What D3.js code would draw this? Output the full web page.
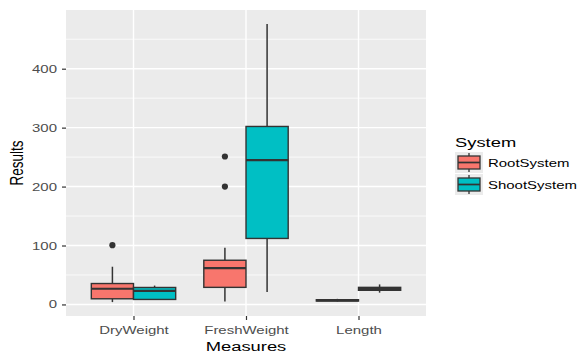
<!DOCTYPE html>
<html><head><meta charset="utf-8">
<script src="https://cdn.jsdelivr.net/npm/d3@7"></script>
<style>
body{margin:0;background:#fff}
text{font-family:"Liberation Sans",Arial,Helvetica,sans-serif}
</style></head>
<body><svg id="c" width="579" height="353"></svg>
<script>
// ---- data ----
const measures = ["DryWeight", "FreshWeight", "Length"];
const systems = ["RootSystem", "ShootSystem"];
const fills = ["#F8766D", "#00BFC4"];
// RootSystem five-number summaries per measure
const rootLow  = [4, 5, 5];
const rootQ1   = [9.6, 29, 5.8];
const rootMed  = [26.6, 61.5, 7];
const rootQ3   = [35.5, 75, 8];
const rootHigh = [64, 96, 9.5];
const rootOut  = [[100.5], [200, 251], []];
// ShootSystem five-number summaries per measure
const shootLow  = [8.5, 21, 20];
const shootQ1   = [8.5, 112, 24];
const shootMed  = [23.2, 245, 26.5];
const shootQ3   = [28.8, 302, 29];
const shootHigh = [32, 476, 34];
const shootOut  = [[], [], []];
const yTickLabels = [0, 100, 200, 300, 400];

// ---- build ----
const stats = [
  {low: rootLow, q1: rootQ1, med: rootMed, q3: rootQ3, high: rootHigh, out: rootOut},
  {low: shootLow, q1: shootQ1, med: shootMed, q3: shootQ3, high: shootHigh, out: shootOut}
];
const boxes = [];
measures.forEach((m, i) => systems.forEach((s, j) => {
  const st = stats[j];
  boxes.push({m, s, j, low: st.low[i], q1: st.q1[i], med: st.med[i], q3: st.q3[i], high: st.high[i], out: st.out[i]});
}));

const P = {l: 66, r: 426, t: 10, b: 316};
const SX = 1.36;
const svg = d3.select("#c");

const x = d3.scalePoint().domain(measures).range([P.l, P.r]).padding(0.6);
const allVals = boxes.flatMap(b => [b.low, b.high, ...b.out]);
const lo = d3.min(allVals), hi = d3.max(allVals), span = hi - lo;
const y = d3.scaleLinear().domain([lo - 0.05 * span, hi + 0.05 * span]).range([P.b, P.t]);

svg.append("rect").attr("x", P.l).attr("y", P.t).attr("width", P.r - P.l).attr("height", P.b - P.t).attr("fill", "#EBEBEB");

const minor = y.ticks(10).filter(t => !yTickLabels.includes(t));
svg.append("g").selectAll("line").data(minor).join("line")
  .attr("x1", P.l).attr("x2", P.r).attr("y1", d => y(d)).attr("y2", d => y(d))
  .attr("stroke", "#fff").attr("stroke-width", 0.8);
svg.append("g").selectAll("line").data(yTickLabels).join("line")
  .attr("x1", P.l).attr("x2", P.r).attr("y1", d => y(d)).attr("y2", d => y(d))
  .attr("stroke", "#fff").attr("stroke-width", 1.4);
svg.append("g").selectAll("line").data(measures).join("line")
  .attr("x1", d => x(d)).attr("x2", d => x(d)).attr("y1", P.t).attr("y2", P.b)
  .attr("stroke", "#fff").attr("stroke-width", 1.4);

const bw = 0.375 * x.step();
const cx = b => x(b.m) + (b.j - 0.5) * bw;
const OUT = "#333333";
const g = svg.append("g");
boxes.forEach(b => {
  const c = cx(b);
  g.append("line").attr("x1", c).attr("x2", c).attr("y1", y(b.high)).attr("y2", y(b.q3)).attr("stroke", OUT).attr("stroke-width", 1.5);
  g.append("line").attr("x1", c).attr("x2", c).attr("y1", y(b.q1)).attr("y2", y(b.low)).attr("stroke", OUT).attr("stroke-width", 1.5);
  g.append("rect").attr("x", c - bw / 2).attr("y", y(b.q3)).attr("width", bw).attr("height", Math.max(0.5, y(b.q1) - y(b.q3)))
    .attr("fill", fills[b.j]).attr("stroke", OUT).attr("stroke-width", 1.4);
  g.append("line").attr("x1", c - bw / 2).attr("x2", c + bw / 2).attr("y1", y(b.med)).attr("y2", y(b.med)).attr("stroke", OUT).attr("stroke-width", 2.2);
  b.out.forEach(o => g.append("circle").attr("cx", c).attr("cy", y(o)).attr("r", 3.1).attr("fill", OUT));
});

function stretch(sel) {
  sel.each(function () {
    const t = d3.select(this);
    const tx = +t.attr("x") || 0, ty = +t.attr("y") || 0;
    t.attr("x", 0).attr("y", 0).attr("transform", `translate(${tx},${ty}) scale(${SX},1)`);
  });
}

const ya = svg.append("g").attr("transform", `translate(${P.l},0)`)
  .call(d3.axisLeft(y).tickValues(yTickLabels).tickSize(4).tickPadding(5));
ya.select(".domain").remove();
ya.selectAll("line").attr("stroke", "#333").attr("stroke-width", 1.2);
ya.selectAll("text").attr("fill", "#4D4D4D").style("font-size", "11px").call(stretch);

const xa = svg.append("g").attr("transform", `translate(0,${P.b})`)
  .call(d3.axisBottom(x).tickSize(4).tickPadding(6));
xa.select(".domain").remove();
xa.selectAll("line").attr("stroke", "#333").attr("stroke-width", 1.2);
xa.selectAll("text").attr("fill", "#4D4D4D").style("font-size", "11px").call(stretch);

svg.append("text").attr("text-anchor", "middle").attr("transform", `translate(${(P.l + P.r) / 2},351) scale(${SX},1)`)
  .style("font-size", "13.5px").attr("fill", "#000").text("Measures");
svg.append("text").attr("text-anchor", "middle").attr("transform", `translate(23,${(P.t + P.b) / 2}) rotate(-90) scale(1,${SX})`)
  .style("font-size", "13.5px").attr("fill", "#000").text("Results");

// legend
const L = {x: 455, y: 152, kw: 28, kh: 21, gap: 22};
svg.append("text").attr("transform", `translate(${L.x},147) scale(${SX},1)`).style("font-size", "13.5px").attr("fill", "#000").text("System");
systems.forEach((s, j) => {
  const ky = L.y + j * L.gap;
  const lg = svg.append("g");
  lg.append("rect").attr("x", L.x).attr("y", ky).attr("width", L.kw).attr("height", L.kh).attr("fill", "#EBEBEB");
  const mx = L.x + L.kw / 2, my = ky + L.kh / 2;
  lg.append("line").attr("x1", mx).attr("x2", mx).attr("y1", ky + 1).attr("y2", ky + L.kh - 1).attr("stroke", OUT).attr("stroke-width", 1.3);
  lg.append("rect").attr("x", L.x + 3).attr("y", ky + 4).attr("width", L.kw - 6).attr("height", L.kh - 8)
    .attr("fill", fills[j]).attr("stroke", OUT).attr("stroke-width", 1.3);
  lg.append("line").attr("x1", L.x + 3).attr("x2", L.x + L.kw - 3).attr("y1", my).attr("y2", my).attr("stroke", OUT).attr("stroke-width", 1.7);
  lg.append("text").attr("transform", `translate(${L.x + 33},${my + 4}) scale(${SX},1)`).style("font-size", "11px").attr("fill", "#000").text(s);
});
</script></body></html>
